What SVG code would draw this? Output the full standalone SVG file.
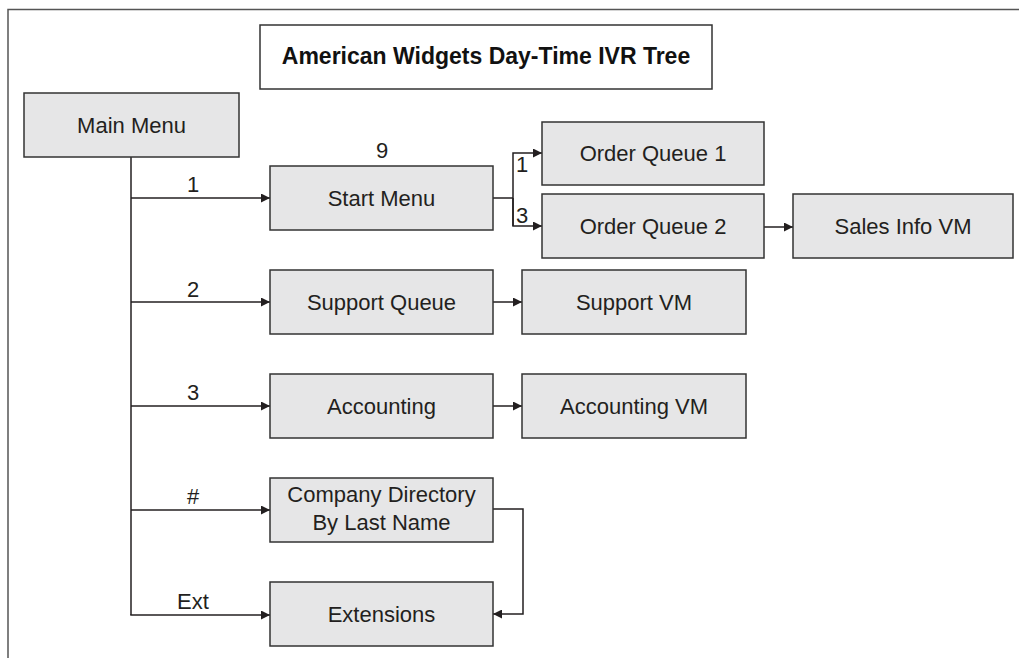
<svg xmlns="http://www.w3.org/2000/svg" width="1019" height="658" viewBox="0 0 1019 658">
  <defs>
    <marker id="arrow" viewBox="0 0 10 10" refX="10" refY="5" markerWidth="11" markerHeight="9" markerUnits="userSpaceOnUse" orient="auto">
      <path d="M0,0 L10,5 L0,10 Z" fill="#231f20"/>
    </marker>
    <style>
      .frame { fill: none; stroke: #555; stroke-width: 1.5; }
      .box { fill: #e6e6e7; stroke: #333; stroke-width: 1.5; }
      .title-box { fill: #ffffff; stroke: #333; stroke-width: 1.5; }
      .label { font-family: "Liberation Sans", Arial, sans-serif; font-size: 22px; fill: #231f20; text-anchor: middle; }
      .title { font-family: "Liberation Sans", Arial, sans-serif; font-size: 23px; font-weight: bold; fill: #111; text-anchor: middle; }
      .edge { fill: none; stroke: #231f20; stroke-width: 1.5; }
      .arrowed { marker-end: url(#arrow); }
    </style>
  </defs>

  <rect width="1019" height="658" fill="#ffffff"/>
  <!-- page frame (top and left rules only) -->
  <path class="frame" d="M8,658 L8,9.5 L1019,9.5"/>

  <g id="title">
    <rect class="title-box" x="260" y="25" width="452" height="64"/>
    <text class="title" x="486" y="64">American Widgets Day-Time IVR Tree</text>
  </g>

  <g id="connectors">
    <!-- trunk from Main Menu -->
    <path class="edge" d="M131,157 L131,615"/>
    <path class="edge arrowed" d="M131,198 L270,198"/>
    <path class="edge arrowed" d="M131,302 L270,302"/>
    <path class="edge arrowed" d="M131,406 L270,406"/>
    <path class="edge arrowed" d="M131,510 L270,510"/>
    <path class="edge arrowed" d="M130.25,615 L270,615"/>
    <!-- Start Menu branches -->
    <path class="edge" d="M493,198 L513,198"/>
    <path class="edge arrowed" d="M513,226 L513,153 L542,153"/>
    <path class="edge arrowed" d="M513,198 L513,226 L542,226"/>
    <path class="edge arrowed" d="M764,227 L793,227"/>
    <!-- queues to voicemail -->
    <path class="edge arrowed" d="M493,302 L522,302"/>
    <path class="edge arrowed" d="M493,406 L522,406"/>
    <!-- directory to extensions -->
    <path class="edge arrowed" d="M493,509 L523,509 L523,614 L493,614"/>
    <!-- key labels -->
    <text class="label" x="193" y="192">1</text>
    <text class="label" x="193" y="297">2</text>
    <text class="label" x="193" y="400">3</text>
    <text class="label" x="193" y="504">#</text>
    <text class="label" x="193" y="609">Ext</text>
    <text class="label" x="382" y="158">9</text>
    <text class="label" x="522" y="172">1</text>
    <text class="label" x="522" y="223">3</text>
  </g>

  <g id="main-menu">
    <rect class="box" x="24" y="93" width="215" height="64"/>
    <text class="label" x="131.5" y="133">Main Menu</text>
  </g>

  <g id="start-menu">
    <rect class="box" x="270" y="166" width="223" height="64"/>
    <text class="label" x="381.5" y="206">Start Menu</text>
  </g>

  <g id="order-queue-1">
    <rect class="box" x="542" y="122" width="222" height="63"/>
    <text class="label" x="653" y="161">Order Queue 1</text>
  </g>

  <g id="order-queue-2">
    <rect class="box" x="542" y="194" width="222" height="64"/>
    <text class="label" x="653" y="234">Order Queue 2</text>
  </g>

  <g id="sales-info-vm">
    <rect class="box" x="793" y="194" width="220" height="64"/>
    <text class="label" x="903" y="234">Sales Info VM</text>
  </g>

  <g id="support-queue">
    <rect class="box" x="270" y="270" width="223" height="64"/>
    <text class="label" x="381.5" y="310">Support Queue</text>
  </g>

  <g id="support-vm">
    <rect class="box" x="522" y="270" width="224" height="64"/>
    <text class="label" x="634" y="310">Support VM</text>
  </g>

  <g id="accounting">
    <rect class="box" x="270" y="374" width="223" height="64"/>
    <text class="label" x="381.5" y="414">Accounting</text>
  </g>

  <g id="accounting-vm">
    <rect class="box" x="522" y="374" width="224" height="64"/>
    <text class="label" x="634" y="414">Accounting VM</text>
  </g>

  <g id="company-directory">
    <rect class="box" x="270" y="478" width="223" height="64"/>
    <text class="label" x="381.5" y="502">Company Directory</text>
    <text class="label" x="381.5" y="530">By Last Name</text>
  </g>

  <g id="extensions">
    <rect class="box" x="270" y="582" width="223" height="64"/>
    <text class="label" x="381.5" y="622">Extensions</text>
  </g>
</svg>
